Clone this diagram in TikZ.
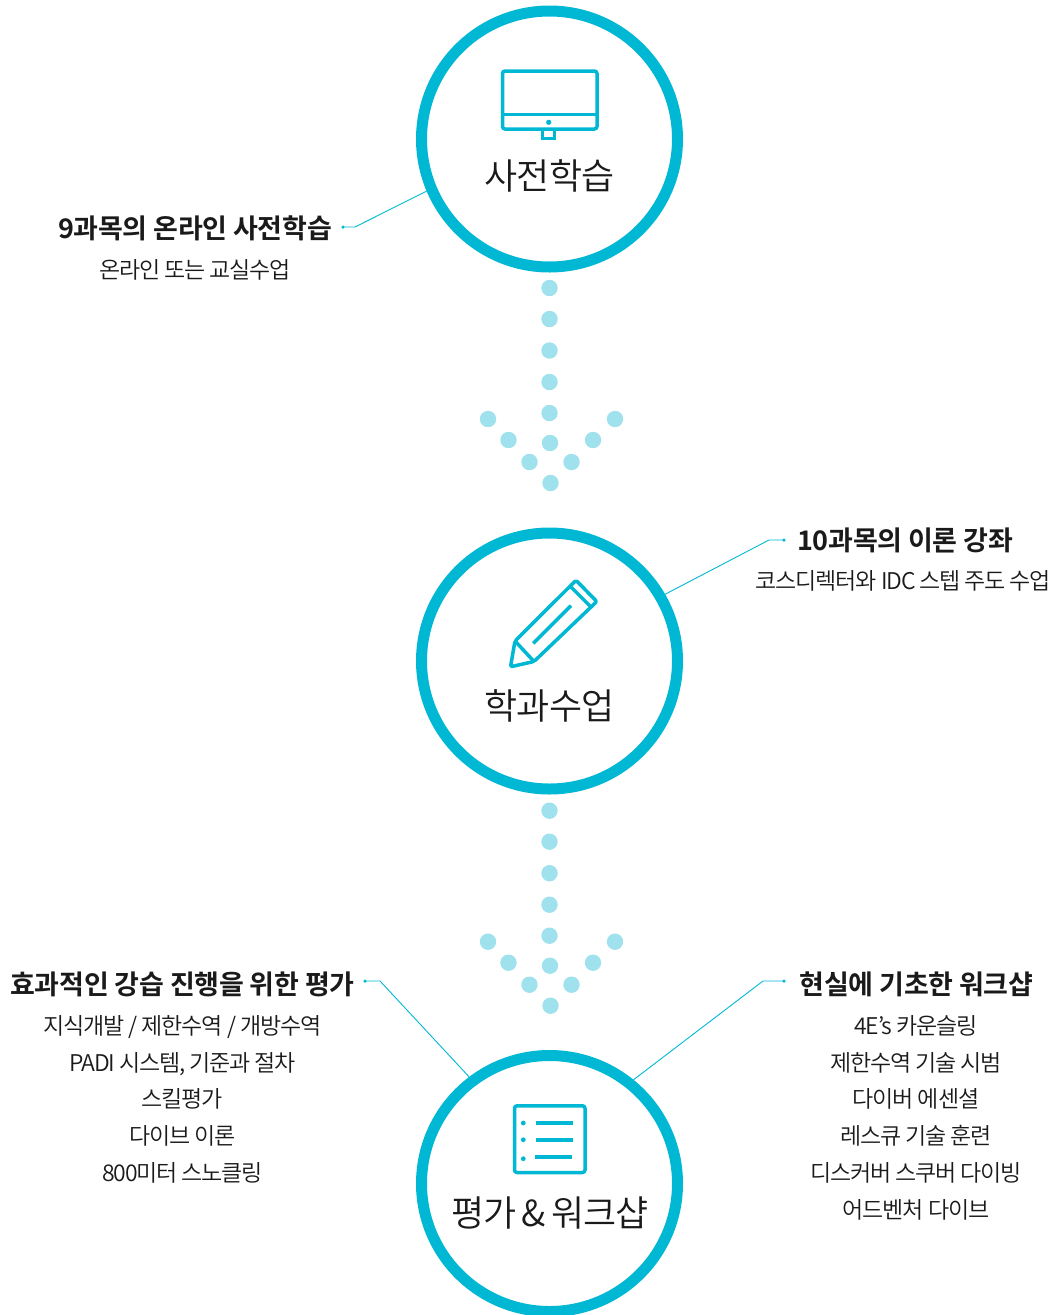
\documentclass[tikz,border=0pt]{standalone}
\usepackage{fontspec}
\setmainfont{Noto Sans CJK KR}
\newfontfamily\headfont[LetterSpace=-1]{Noto Sans CJK KR Bold}
\newfontfamily\subfont[LetterSpace=-5]{Noto Sans CJK KR DemiLight}
\newfontfamily\ringfont[LetterSpace=-3]{Noto Sans CJK KR DemiLight}
\definecolor{ring}{RGB}{0,184,212}
\definecolor{dotc}{RGB}{159,225,236}
\definecolor{ink}{RGB}{26,26,26}
\tikzset{
  ringnode/.style={circle,draw=ring,line width=11pt,fill=white,minimum size=256pt,inner sep=0pt},
  ringtext/.style={anchor=base,text=ink,inner sep=0pt,font=\ringfont\fontsize{36}{36}\selectfont},
  headtext/.style={anchor=base,text=ink,inner sep=0pt,font=\headfont\fontsize{27}{27}\selectfont},
  subtext/.style={anchor=base,text=ink,inner sep=0pt,font=\subfont\fontsize{23}{23}\selectfont},
  leader/.style={draw=ring,line width=0.9pt},
  enddot/.style={circle,fill=ring,inner sep=0pt,minimum size=3.5pt},
  icon/.style={draw=ring,line width=3.5pt,line join=round},
  bead/.style={fill=dotc}
}
\begin{document}
\begin{tikzpicture}[x=1pt,y=-1pt]
\useasboundingbox (0,0) rectangle (1059,1315);
\clip (0,0) rectangle (1059,1315);
% beads
\foreach \dy in {0,522.7}{
  \foreach \px/\py in {549.5/288,549.5/319,549.5/350.5,549.5/382,549.5/413,550/443,550.5/483,488/419,508.5/440,529.5/462,571.5/462,593/440,615/419}{
    \fill[bead] (\px,\py+\dy) circle (8.2pt);
  }
}
% rings
\node[ringnode] (c1) at (549.5,139) {};
\node[ringnode] (c2) at (549.5,661) {};
\node[ringnode] (c3) at (549.5,1183.5) {};
% leaders
\node[enddot] (e1) at (343,227) {};
\node[enddot] (e2) at (784,540) {};
\node[enddot] (e3) at (365,981) {};
\node[enddot] (e4) at (784,981) {};
\coordinate (k1) at (355,227);
\coordinate (k2) at (769,540);
\coordinate (k3) at (380,981);
\coordinate (k4) at (763,981);
\draw[leader] (c1.203) -- (k1) -- (e1.center);
\draw[leader] (c2.30) -- (k2) -- (e2.center);
\draw[leader] (c3.127) -- (k3) -- (e3.center);
\draw[leader] (c3.51.5) -- (k4) -- (e4.center);
% monitor
\draw[icon,rounded corners=2.5pt] (502.5,71) rectangle (597,129);
\draw[icon] (502.5,114.5) -- (597,114.5);
\fill[ring] (548.7,122.3) circle (2.6pt);
\draw[draw=ring,line width=3pt] (542.7,130) -- (542.7,138.5) -- (554.9,138.5) -- (554.9,130);
% pencil
\draw[icon,rounded corners=2pt] (510.5,666.8) -- (515,641) -- (576,580.3) -- (596.8,601.5) -- (534,661.5) -- cycle;
\draw[icon] (515,641) -- (534,661.5);
\draw[icon] (571,587) -- (590.7,606.7);
\draw[icon] (533.3,643.3) -- (571,605.7);
% list
\draw[icon,rounded corners=2.5pt] (514.5,1105.8) rectangle (585,1172.5);
\foreach \yy in {1123,1139.7,1158.7}{\fill[ring] (523.3,\yy) circle (2.4pt);}
\draw[draw=ring,line width=3.7pt] (536,1123) -- (573,1123);
\draw[draw=ring,line width=3.7pt] (536,1139.7) -- (573,1139.7);
\draw[draw=ring,line width=3.7pt] (535,1156.7) -- (572,1156.7);
% ring titles
\node[ringtext] (t1) at (549.5,189.5) {사전학습};
\node[ringtext] (t2) at (549.5,719.5) {학과수업};
\node[ringtext] (t3) at (550,1226.5) {평가\hspace{-1pt}\,\&\hspace{-1pt}\,워크샵};
% block 1
\node[headtext] (h1) at (195,238.5) {9과목의 온라인 사전학습};
\node[subtext] (s1) at (195,278) {온라인 또는 교실수업};
% block 2
\node[headtext] (h2) at (905,550.5) {10과목의 이론 강좌};
\node[subtext] (s2) at (903.5,589) {코스디렉터와 IDC 스텝 주도 수업};
% block 3
\node[headtext] (h3) at (182.5,994.5) {효과적인 강습 진행을 위한 평가};
\node[subtext] (s3a) at (182.5,1034) {지식개발 / 제한수역 / 개방수역};
\node[subtext] (s3b) at (182.5,1071) {PADI 시스템, 기준과 절차};
\node[subtext] (s3c) at (182.5,1107) {스킬평가};
\node[subtext] (s3d) at (182.5,1144) {다이브 이론};
\node[subtext] (s3e) at (182.5,1181) {800미터 스노클링};
% block 4
\node[headtext] (h4) at (916.5,994.5) {현실에 기초한 워크샵};
\node[subtext] (s4a) at (916,1034) {4E’s 카운슬링};
\node[subtext] (s4b) at (916,1071) {제한수역 기술 시범};
\node[subtext] (s4c) at (916,1107) {다이버 에센셜};
\node[subtext] (s4d) at (916,1144) {레스큐 기술 훈련};
\node[subtext] (s4e) at (916,1181) {디스커버 스쿠버 다이빙};
\node[subtext] (s4f) at (916,1218) {어드벤처 다이브};
\end{tikzpicture}
\end{document}
